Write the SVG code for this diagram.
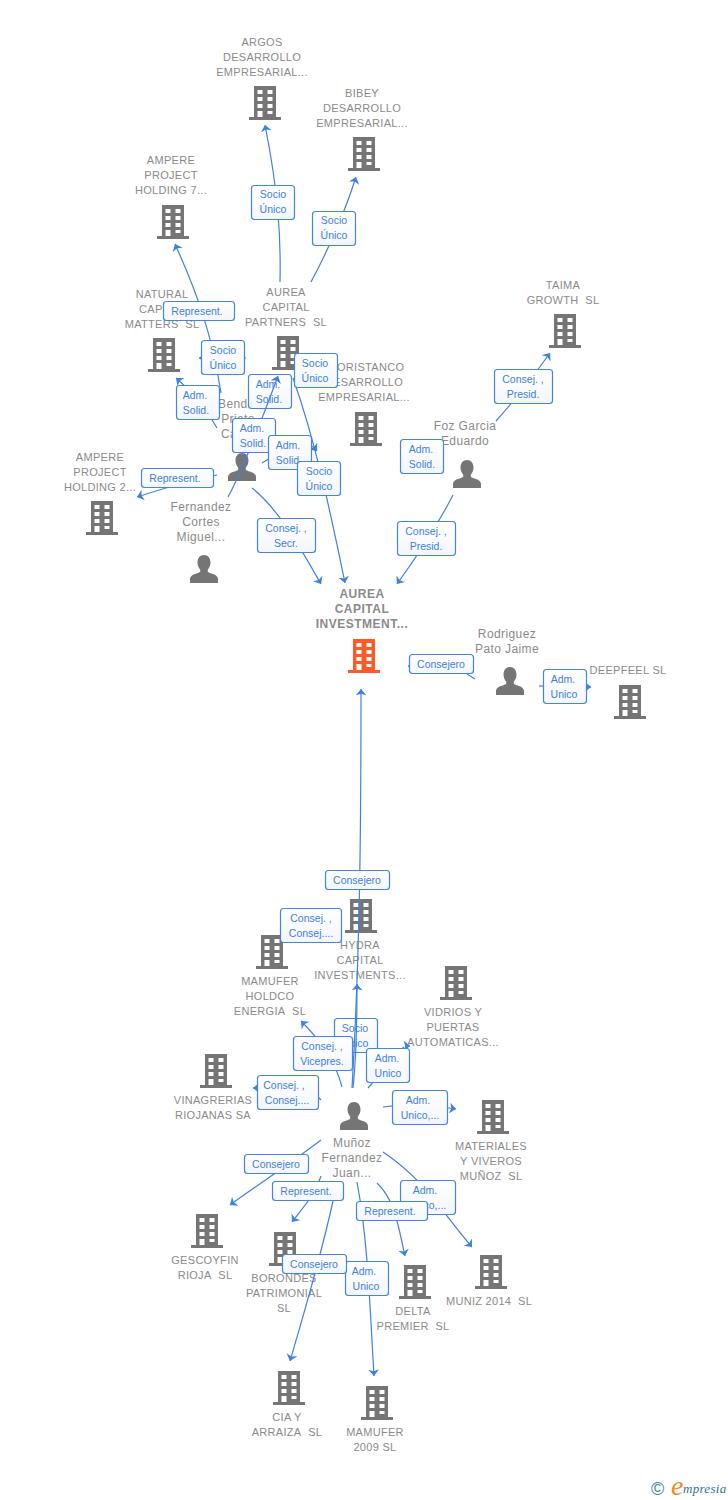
<svg xmlns="http://www.w3.org/2000/svg" width="728" height="1500" viewBox="0 0 728 1500">
<style>
text{font-family:"Liberation Sans",Arial,sans-serif}
.n{font-size:11px;fill:#8a8a8a;text-anchor:middle;letter-spacing:.3px}
.p{font-size:12px;letter-spacing:.4px}
.m{font-weight:bold;font-size:12px;letter-spacing:.5px}
.c{fill:none;stroke:#3f80e0;stroke-width:1.2}
.a{marker-end:url(#ah)}
.l rect{fill:url(#lg);stroke:#4285e4;stroke-width:1.2}
.l text{font-size:10.5px;fill:#3d80de;text-anchor:middle}
.b{fill:#757575}
.o{fill:#ff5a26}
</style>
<defs>
<linearGradient id="lg" x1="0" y1="0" x2="0" y2="1"><stop offset="0" stop-color="#ffffff"/><stop offset="1" stop-color="#f3f6fb"/></linearGradient>
<marker id="ah" markerUnits="userSpaceOnUse" markerWidth="12" markerHeight="12" refX="6.500" refY="5.500" orient="auto"><path d="M0 0L6.500 5.500L0 11L1.800 5.500Z" fill="#3f80e0"/></marker>
<symbol id="bld" width="32" height="34" viewBox="0 0 32 34" overflow="visible">
<path d="M5 0H27V31H32V34H0V31H5Z"/>
<path fill="#fff" d="M8.500 4h5v4h-5zM18.500 4h5v4h-5zM8.500 11h5v4h-5zM18.500 11h5v4h-5zM8.500 18h5v4h-5zM18.500 18h5v4h-5zM8.500 25h5v6h-5zM18.500 25h5v3h-5z"/>
</symbol>
<symbol id="per" width="28" height="28" viewBox="0 0 28 28" overflow="visible">
<path d="M14 0c4 0 6.500 3 6.500 7.500 0 3-1.200 5.500-2.700 7v2.500c3 1.600 9.700 2.500 10.200 6.500V28H0v-4.500c.5-4 7.200-4.900 10.200-6.500v-2.500C8.700 13 7.500 10.500 7.500 7.500 7.500 3 10 0 14 0Z"/>
</symbol>
</defs>

<g id="nodes">
<g id="argos"><text class="n"><tspan x="262" y="46">ARGOS</tspan><tspan x="262" y="61">DESARROLLO</tspan><tspan x="262" y="76">EMPRESARIAL...</tspan></text><use href="#bld" class="b" x="249" y="86"/></g>
<g id="bibey"><text class="n"><tspan x="362" y="97">BIBEY</tspan><tspan x="362" y="112">DESARROLLO</tspan><tspan x="362" y="127">EMPRESARIAL...</tspan></text><use href="#bld" class="b" x="348" y="137"/></g>
<g id="ampere7"><text class="n"><tspan x="171" y="164">AMPERE</tspan><tspan x="171" y="179">PROJECT</tspan><tspan x="171" y="194">HOLDING 7...</tspan></text><use href="#bld" class="b" x="157" y="205"/></g>
<g id="natural"><text class="n"><tspan x="162" y="298">NATURAL</tspan><tspan x="139" y="313" style="text-anchor:start">CAP</tspan><tspan x="162" y="328">MATTERS&#160; SL</tspan></text><use href="#bld" class="b" x="148" y="338"/></g>
<g id="partners"><text class="n"><tspan x="286" y="296">AUREA</tspan><tspan x="286" y="311">CAPITAL</tspan><tspan x="286" y="326">PARTNERS&#160; SL</tspan></text><use href="#bld" class="b" x="272" y="336"/></g>
<g id="oristanco"><text class="n"><tspan x="337" y="371" style="text-anchor:start">ORISTANCO</tspan><tspan x="364" y="386">DESARROLLO</tspan><tspan x="364" y="401">EMPRESARIAL...</tspan></text><use href="#bld" class="b" x="350" y="412"/></g>
<g id="taima"><text class="n"><tspan x="563" y="289">TAIMA</tspan><tspan x="563" y="304">GROWTH&#160; SL</tspan></text><use href="#bld" class="b" x="549" y="314"/></g>
<g id="foz"><text class="n p"><tspan x="465" y="430">Foz Garcia</tspan><tspan x="465" y="445">Eduardo</tspan></text><use href="#per" class="b" x="453" y="460"/></g>
<g id="bendito"><text class="n p"><tspan x="218" y="408" style="text-anchor:start">Bend</tspan><tspan x="238" y="423">Prieto</tspan><tspan x="221" y="438" style="text-anchor:start">Ca</tspan></text><use href="#per" class="b" x="228" y="453"/></g>
<g id="fernandez"><text class="n p"><tspan x="201" y="511">Fernandez</tspan><tspan x="201" y="526">Cortes</tspan><tspan x="201" y="541">Miguel...</tspan></text><use href="#per" class="b" x="190" y="555"/></g>
<g id="ampere2"><text class="n"><tspan x="100" y="461">AMPERE</tspan><tspan x="100" y="476">PROJECT</tspan><tspan x="100" y="491">HOLDING 2...</tspan></text><use href="#bld" class="b" x="86" y="501"/></g>
<g id="aurea"><text class="n m"><tspan x="362" y="598">AUREA</tspan><tspan x="362" y="613">CAPITAL</tspan><tspan x="362" y="628">INVESTMENT...</tspan></text><use href="#bld" class="o" x="348" y="639"/></g>
<g id="rodriguez"><text class="n p"><tspan x="507" y="638">Rodriguez</tspan><tspan x="507" y="653">Pato Jaime</tspan></text><use href="#per" class="b" x="496" y="667"/></g>
<g id="deepfeel"><text class="n"><tspan x="628" y="674">DEEPFEEL SL</tspan></text><use href="#bld" class="b" x="614" y="685"/></g>
<g id="hydra"><text class="n"><tspan x="360" y="949">HYDRA</tspan><tspan x="360" y="964">CAPITAL</tspan><tspan x="360" y="979">INVESTMENTS...</tspan></text><use href="#bld" class="b" x="345" y="899"/></g>
<g id="mamuferh"><text class="n"><tspan x="270" y="985">MAMUFER</tspan><tspan x="270" y="1000">HOLDCO</tspan><tspan x="270" y="1015">ENERGIA&#160; SL</tspan></text><use href="#bld" class="b" x="256" y="935"/></g>
<g id="vidrios"><text class="n"><tspan x="453" y="1016">VIDRIOS Y</tspan><tspan x="453" y="1031">PUERTAS</tspan><tspan x="453" y="1046">AUTOMATICAS...</tspan></text><use href="#bld" class="b" x="440" y="966"/></g>
<g id="vinagrerias"><text class="n"><tspan x="213" y="1104">VINAGRERIAS</tspan><tspan x="213" y="1119">RIOJANAS SA</tspan></text><use href="#bld" class="b" x="200" y="1054"/></g>
<g id="munoz"><text class="n p"><tspan x="352" y="1147">Muñoz</tspan><tspan x="352" y="1162">Fernandez</tspan><tspan x="352" y="1177">Juan...</tspan></text><use href="#per" class="b" x="340" y="1102"/></g>
<g id="materiales"><text class="n"><tspan x="491" y="1150">MATERIALES</tspan><tspan x="491" y="1165">Y VIVEROS</tspan><tspan x="491" y="1180">MUÑOZ&#160; SL</tspan></text><use href="#bld" class="b" x="477" y="1100"/></g>
<g id="gescoyfin"><text class="n"><tspan x="205" y="1264">GESCOYFIN</tspan><tspan x="205" y="1279">RIOJA&#160; SL</tspan></text><use href="#bld" class="b" x="191" y="1214"/></g>
<g id="borondes"><text class="n"><tspan x="284" y="1282">BORONDES</tspan><tspan x="284" y="1297">PATRIMONIAL</tspan><tspan x="284" y="1312">SL</tspan></text><use href="#bld" class="b" x="269" y="1232"/></g>
<g id="delta"><text class="n"><tspan x="413" y="1315">DELTA</tspan><tspan x="413" y="1330">PREMIER&#160; SL</tspan></text><use href="#bld" class="b" x="399" y="1265"/></g>
<g id="muniz"><text class="n"><tspan x="489" y="1305">MUNIZ 2014&#160; SL</tspan></text><use href="#bld" class="b" x="475" y="1255"/></g>
<g id="cia"><text class="n"><tspan x="287" y="1421">CIA Y</tspan><tspan x="287" y="1436">ARRAIZA&#160; SL</tspan></text><use href="#bld" class="b" x="273" y="1371"/></g>
<g id="mamufer2009"><text class="n"><tspan x="375" y="1436">MAMUFER</tspan><tspan x="375" y="1451">2009 SL</tspan></text><use href="#bld" class="b" x="361" y="1386"/></g>
</g>

<g id="labels-under" class="l">
<g><rect x="248.500" y="374.500" width="43" height="34" rx="3"/><text x="268" y="387.500">Adm.</text><text x="269" y="402.500">Solid.</text></g>
<g><rect x="334.500" y="1018.500" width="43" height="34" rx="3"/><text x="355" y="1031.500">Socio</text><text x="355" y="1046.500">Único</text></g>
</g>

<g id="connectors">
<path class="c a" d="M280 282C281 235 278 190 265 125"/>
<path class="c a" d="M311 282C328 250 344 215 356 177"/>
<path class="c a" d="M221 393C212 335 198 295 175 244"/>
<path class="c" d="M246 358H244"/><path class="c a" d="M205 358H199"/>
<path class="c a" d="M217 428C207 410 193 392 176 378"/>
<path class="c a" d="M228 497C240 475 255 438 278 376"/>
<path class="c a" d="M262 463C282 452 300 430 317 451"/>
<path class="c a" d="M293 378C315 440 330 510 345 583"/>
<path class="c a" d="M217 475C190 480 165 488 137 497"/>
<path class="c a" d="M252 488C280 510 303 553 321 584"/>
<path class="c a" d="M496 421C515 400 532 378 550 353"/>
<path class="c a" d="M453 495C435 530 418 555 397 584"/>
<path class="c" d="M475 679L467 674"/><path class="c a" d="M412 666H408"/>
<path class="c" d="M539 686H544"/><path class="c a" d="M586 687H591"/>
<path class="c a" d="M352 1088C360 950 361 830 361 689"/>
<path class="c a" d="M353 1088C356 1060 357 1020 357 984"/>
<path class="c a" d="M342 1087C335 1060 320 1040 301 1021"/>
<path class="c" d="M321 1100L318 1097"/><path class="c a" d="M258 1088H253"/>
<path class="c" d="M368 1088C382 1073 390 1058 404 1047"/><path class="c a" d="M405 1046H410"/>
<path class="c a" d="M383 1107C410 1103 430 1105 456 1109"/>
<path class="c a" d="M321 1140C295 1160 262 1182 230 1205"/>
<path class="c a" d="M321 1176C315 1195 305 1205 292 1222"/>
<path class="c a" d="M333 1201C320 1260 305 1310 290 1361"/>
<path class="c a" d="M377 1183C395 1200 398 1225 405 1256"/>
<path class="c a" d="M357 1182C368 1240 370 1310 374 1376"/>
<path class="c a" d="M383 1152C425 1180 440 1210 472 1247"/>
</g>

<g id="labels" class="l">
<g><rect x="251.500" y="185.500" width="43" height="34" rx="3"/><text x="273" y="198">Socio</text><text x="273" y="213">Único</text></g>
<g><rect x="312.500" y="211.500" width="43" height="34" rx="3"/><text x="334" y="224">Socio</text><text x="334" y="239">Único</text></g>
<g><rect x="163.500" y="301.500" width="71" height="19" rx="3"/><text x="197" y="314.500">Represent.</text></g>
<g><rect x="201.500" y="340.500" width="43" height="34" rx="3"/><text x="223" y="353.500">Socio</text><text x="223" y="368.500">Único</text></g>
<g><rect x="176.500" y="385.500" width="43" height="34" rx="3"/><text x="195" y="398.500">Adm.</text><text x="196" y="413.500">Solid.</text></g>
<g><rect x="294.500" y="353.500" width="43" height="34" rx="3"/><text x="315" y="366.500">Socio</text><text x="315" y="381.500">Único</text></g>
<g><rect x="232.500" y="418.500" width="43" height="34" rx="3"/><text x="252" y="431.500">Adm.</text><text x="253" y="446.500">Solid.</text></g>
<g><rect x="268.500" y="435.500" width="43" height="34" rx="3"/><text x="288" y="449">Adm.</text><text x="289" y="464">Solid.</text></g>
<g><rect x="297.500" y="461.500" width="43" height="34" rx="3"/><text x="319" y="475">Socio</text><text x="319" y="490">Único</text></g>
<g><rect x="141.500" y="468.500" width="72" height="19" rx="3"/><text x="175" y="481.500">Represent.</text></g>
<g><rect x="257.500" y="518.500" width="58" height="34" rx="3"/><text x="286" y="531.500">Consej. ,</text><text x="286" y="546.500">Secr.</text></g>
<g><rect x="400.500" y="439.500" width="43" height="34" rx="3"/><text x="421" y="453">Adm.</text><text x="422" y="468">Solid.</text></g>
<g><rect x="494.500" y="369.500" width="58" height="34" rx="3"/><text x="523" y="382.500">Consej. ,</text><text x="523" y="397.500">Presid.</text></g>
<g><rect x="397.500" y="521.500" width="58" height="34" rx="3"/><text x="426" y="534.500">Consej. ,</text><text x="426" y="549.500">Presid.</text></g>
<g><rect x="409.500" y="654.500" width="64" height="19" rx="3"/><text x="441" y="667.500">Consejero</text></g>
<g><rect x="543.500" y="669.500" width="43" height="34" rx="3"/><text x="563" y="682.500">Adm.</text><text x="564" y="697.500">Unico</text></g>
<g><rect x="325.500" y="870.500" width="64" height="19" rx="3"/><text x="357" y="883.500">Consejero</text></g>
<g><rect x="280.500" y="908.500" width="61" height="34" rx="3"/><text x="311" y="922">Consej. ,</text><text x="311" y="937">Consej....</text></g>
<g><rect x="293.500" y="1036.500" width="59" height="34" rx="3"/><text x="322" y="1049.500">Consej. ,</text><text x="322" y="1064.500">Vicepres.</text></g>
<g><rect x="366.500" y="1048.500" width="43" height="34" rx="3"/><text x="387" y="1061.500">Adm.</text><text x="388" y="1076.500">Unico</text></g>
<g><rect x="257.500" y="1075.500" width="61" height="34" rx="3"/><text x="284" y="1088.500">Consej. ,</text><text x="287" y="1103.500">Consej....</text></g>
<g><rect x="392.500" y="1090.500" width="55" height="34" rx="3"/><text x="418" y="1103.500">Adm.</text><text x="420" y="1118.500">Unico,...</text></g>
<g><rect x="244.500" y="1154.500" width="64" height="19" rx="3"/><text x="276" y="1167.500">Consejero</text></g>
<g><rect x="272.500" y="1181.500" width="71" height="19" rx="3"/><text x="306" y="1194.500">Represent.</text></g>
<g><rect x="400.500" y="1180.500" width="55" height="34" rx="3"/><text x="425" y="1193.500">Adm.</text><text x="427" y="1208.500">Unico,...</text></g>
<g><rect x="356.500" y="1201.500" width="71" height="19" rx="3"/><text x="390" y="1214.500">Represent.</text></g>
<g><rect x="345.500" y="1261.500" width="43" height="34" rx="3"/><text x="364" y="1274.500">Adm.</text><text x="366" y="1289.500">Unico</text></g>
<g><rect x="282.500" y="1254.500" width="64" height="19" rx="3"/><text x="314" y="1267.500">Consejero</text></g>
</g>

<g id="logo">
<text x="651" y="1495" font-size="18" fill="#3f7d9e">©</text>
<text x="671" y="1495" font-size="28" font-style="italic" fill="#f08a1d" style="font-family:'Liberation Serif',serif">e</text>
<text x="683" y="1493" font-size="13" font-style="italic" letter-spacing=".3" fill="#2e6f8e" style="font-family:'Liberation Serif',serif">mpresia</text>
</g>
</svg>
